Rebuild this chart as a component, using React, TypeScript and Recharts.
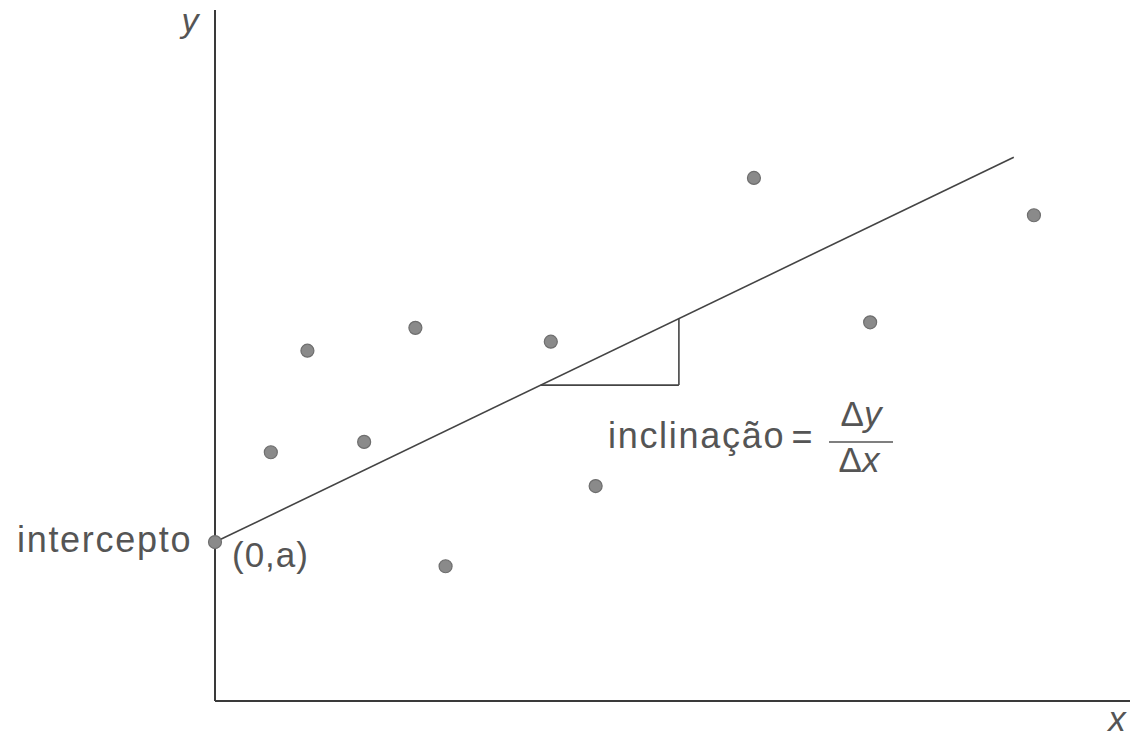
import * as React from "react"
import { ComposedChart, ReferenceLine, Scatter, XAxis, YAxis } from "recharts"

// Observations (x, y) in plot units, both axes run 0..100
const obsX = [6.1, 10.1, 16.3, 21.9, 25.2, 36.7, 41.6, 58.9, 71.6, 89.5]
const obsY = [36.0, 50.7, 37.5, 54.0, 19.5, 52.0, 31.1, 75.7, 54.8, 70.3]

// Fitted line y = a + b x
const intercept = 23
const slope = 0.638
const lineEndX = 87.3

// Slope triangle drawn under the line
const runFrom = 35.6
const runTo = 50.7

const points = obsX.map((x, i) => ({ x, y: obsY[i] }))
const interceptPoint = [{ x: 0, y: intercept }]
const fit = (x: number) => intercept + slope * x

const INK = "#555"
const FONT = "'Liberation Sans', Arial, Helvetica, sans-serif"

const Dot = (props: any) => (
  <circle cx={props.cx} cy={props.cy} r={6.5} fill="#8a8a8a" stroke="#6e6e6e" strokeWidth={1.2} />
)

export default function App() {
  const W = 1138
  const H = 739
  return (
    <div style={{ position: "absolute", left: 0, top: 0, width: W, height: H, background: "#fff" }}>
      <ComposedChart
        width={W}
        height={H}
        margin={{ top: 10, right: 8, bottom: 38, left: 215 }}
      >
        <XAxis type="number" dataKey="x" domain={[0, 100]} hide />
        <YAxis type="number" dataKey="y" domain={[0, 100]} hide />
        {/* axes as plain lines, no ticks */}
        <ReferenceLine x={0} stroke="#3a3a3a" strokeWidth={2} ifOverflow="visible" />
        <ReferenceLine y={0} stroke="#3a3a3a" strokeWidth={2} ifOverflow="visible" />
        <ReferenceLine
          segment={[{ x: 0, y: intercept }, { x: lineEndX, y: fit(lineEndX) }]}
          stroke="#444"
          strokeWidth={1.6}
          ifOverflow="visible"
        />
        <ReferenceLine
          segment={[{ x: runFrom, y: fit(runFrom) }, { x: runTo, y: fit(runFrom) }]}
          stroke="#444"
          strokeWidth={1.6}
          ifOverflow="visible"
        />
        <ReferenceLine
          segment={[{ x: runTo, y: fit(runFrom) }, { x: runTo, y: fit(runTo) }]}
          stroke="#444"
          strokeWidth={1.6}
          ifOverflow="visible"
        />
        <Scatter data={points} shape={Dot} isAnimationActive={false} />
        <Scatter data={interceptPoint} shape={Dot} isAnimationActive={false} />
      </ComposedChart>

      <svg
        width={W}
        height={H}
        style={{ position: "absolute", left: 0, top: 0, pointerEvents: "none" }}
      >
        <g fill={INK} fontFamily={FONT}>
          <text x={190} y={32} fontSize={34} fontStyle="italic" textAnchor="middle">y</text>
          <text x={1117} y={731} fontSize={35} fontStyle="italic" textAnchor="middle">x</text>
          <text x={17} y={552} fontSize={36} letterSpacing={1.7}>intercepto</text>
          <text x={232} y={567} fontSize={35} letterSpacing={1}>(0,a)</text>
          <text x={608} y={448} fontSize={36} letterSpacing={1.7}>inclinação</text>
          <text x={802} y={449} fontSize={36} textAnchor="middle">=</text>
          <text x={861} y={426} fontSize={35} textAnchor="middle">
            Δ<tspan fontStyle="italic">y</tspan>
          </text>
          <text x={859} y={472} fontSize={35} textAnchor="middle">
            Δ<tspan fontStyle="italic">x</tspan>
          </text>
        </g>
        <line x1={829} y1={442} x2={893} y2={442} stroke={INK} strokeWidth={1.5} />
      </svg>
    </div>
  )
}
